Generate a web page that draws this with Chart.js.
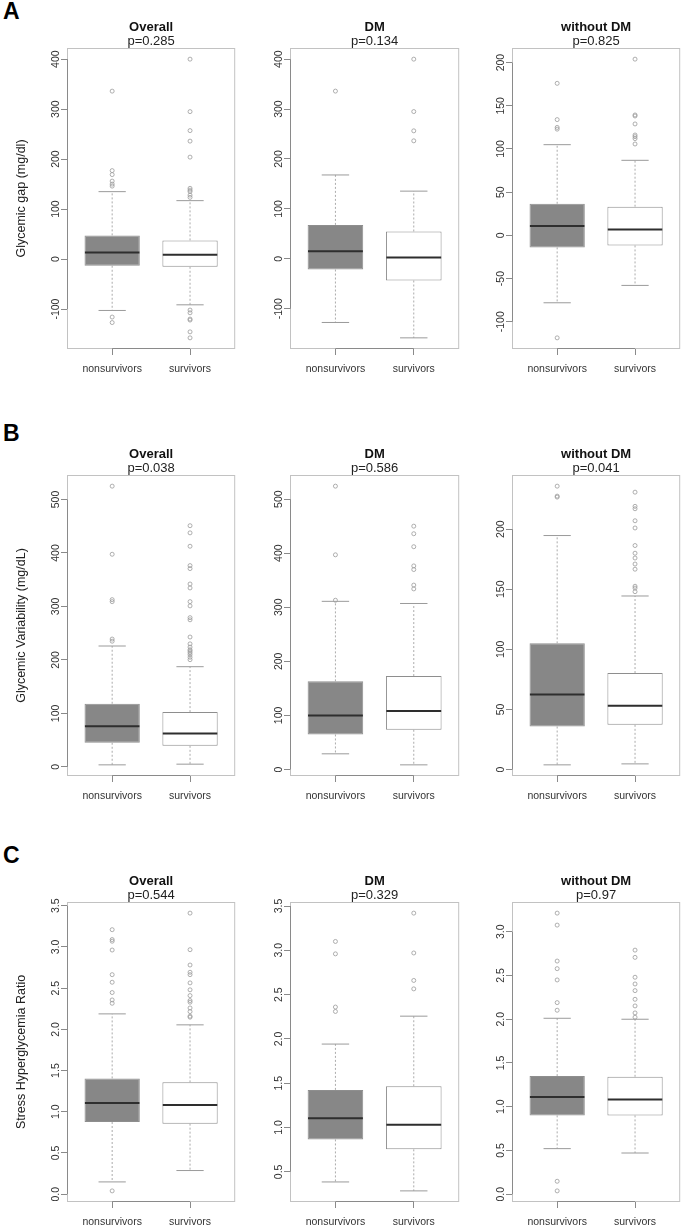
<!DOCTYPE html>
<html>
<head>
<meta charset="utf-8">
<script src="https://cdn.jsdelivr.net/npm/chart.js@4.4.1/dist/chart.umd.min.js"></script>
<style>
  html, body { margin: 0; padding: 0; background: #fff; }
  body { width: 685px; height: 1226px; position: relative; overflow: hidden; }
  .panel { position: absolute; }
  .letter { position: absolute; left: 3px; font: bold 23px/23px "Liberation Sans", Arial, sans-serif; color: #000; }
</style>
</head>
<body>
<div class="letter" style="top:0px">A</div>
<div class="letter" style="top:422px">B</div>
<div class="letter" style="top:844px">C</div>
<script>
const groups = ['nonsurvivors', 'survivors'];

// each box: [lower whisker, q1, median, q3, upper whisker]
// A - glycemic gap
const gapAllBox = [[-102.8, -13.4, 13.4, 47.4, 134.9], [-91.5, -15.4, 8.7, 37.4, 116.9]];
const gapAllOut = [[336, 177, 169, 156, 150, 146, -116, -127],
                   [400, 295, 257, 236, 204, 141.6, 138, 135, 128, 123.5, -102, -107.5, -120, -122, -145.6, -157.6]];
const gapDmBox = [[-127.5, -21.4, 15.4, 68, 168], [-158.3, -43.4, 2.7, 54.8, 135.6]];
const gapDmOut = [[336], [400, 295, 256.4, 236.4]];
const gapNoDmBox = [[-78, -13.9, 10.8, 36.6, 105], [-57.9, -11.6, 6.9, 33.2, 86.9]];
const gapNoDmOut = [[176, 134, 125, 123, -118.6], [204, 139.4, 138.2, 129, 116.2, 114.3, 112, 105.8]];
const gapTicks = [-100, 0, 100, 200, 300, 400];
const gapNoDmTicks = [-100, -50, 0, 50, 100, 150, 200];

// B - glycemic variability
const varAllBox = [[3.7, 45, 76, 118, 226], [5, 39.3, 62.4, 102.4, 187.3]];
const varAllOut = [[525, 397.6, 312.7, 309, 239, 235],
                   [451, 437.6, 412.6, 376.4, 370.8, 342, 334.6, 309, 301, 279, 275, 242.8, 230, 224, 219, 216.6, 213.5, 209.7, 205, 200.4]];
const varDmBox = [[29, 64.8, 100, 163, 311], [8.6, 73.5, 108, 172.8, 307]];
const varDmOut = [[524, 397, 313], [450, 436, 412, 376.5, 369.8, 341, 334]];
const varNoDmBox = [[3.9, 35.8, 62.5, 105, 194.7], [4.7, 37.2, 53, 80.3, 144.4]];
const varNoDmOut = [[235.8, 227.5, 226.7], [230.8, 219, 217, 207, 201, 186.4, 180, 176, 171, 166.7, 152.5, 151, 148]];
const varTicks = [0, 100, 200, 300, 400, 500];
const varNoDmTicks = [0, 50, 100, 150, 200];

// C - stress hyperglycemia ratio
const shrAllBox = [[0.149, 0.876, 1.106, 1.405, 2.188], [0.287, 0.856, 1.082, 1.357, 2.055]];
const shrAllOut = [[3.21, 3.09, 3.07, 2.963, 2.664, 2.572, 2.447, 2.357, 2.317, 0.04],
                   [3.411, 2.967, 2.781, 2.693, 2.664, 2.564, 2.48, 2.41, 2.35, 2.33, 2.26, 2.216, 2.16, 2.148]];
const shrDmBox = [[0.386, 0.866, 1.106, 1.425, 1.942], [0.285, 0.754, 1.031, 1.466, 2.257]];
const shrDmOut = [[3.10, 2.96, 2.36, 2.31], [3.42, 2.97, 2.66, 2.565]];
const shrNoDmBox = [[0.521, 0.901, 1.11, 1.35, 2.011], [0.471, 0.901, 1.084, 1.342, 2.0]];
const shrNoDmOut = [[3.213, 3.076, 2.665, 2.578, 2.449, 2.19, 2.103, 0.148, 0.038],
                    [2.79, 2.707, 2.48, 2.403, 2.327, 2.228, 2.152, 2.072, 2.023]];
const shrTicks = [0, 0.5, 1, 1.5, 2, 2.5, 3, 3.5];
const shrDmTicks = [0.5, 1, 1.5, 2, 2.5, 3, 3.5];
const shrNoDmTicks = [0, 0.5, 1, 1.5, 2, 2.5, 3];

const pValues = [['0.285', '0.134', '0.825'], ['0.038', '0.586', '0.041'], ['0.544', '0.329', '0.97']];
const titles = ['Overall', 'DM', 'without DM'];
const yTitles = ['Glycemic gap (mg/dl)', 'Glycemic Variability (mg/dL)', 'Stress Hyperglycemia Ratio'];

// layout of the plot regions (px)
const cols = [[67, 238], [290, 462], [512, 683]];
const rows = [[48, 349], [475, 776], [902, 1202]];
const BOX_HALF = 0.35, CAP_HALF = 0.175;
const FONT = '"Liberation Sans", Arial, sans-serif';
const TICK_LEN = 6, LABEL_OFFSET = 11;

Chart.defaults.font.family = FONT;
Chart.defaults.animation = false;

// R style frame plus axis lines from first to last tick
const frame = {
  id: 'frame',
  afterDatasetsDraw(chart) {
    const { ctx, chartArea: a, scales: { x, y } } = chart;
    ctx.save();
    ctx.lineWidth = 1;
    ctx.strokeStyle = '#c2c2c2';
    ctx.strokeRect(a.left + 0.5, a.top + 0.5, a.width - 1, a.height - 1);
    ctx.strokeStyle = '#8a8a8a';
    ctx.beginPath();
    ctx.moveTo(x.getPixelForValue(x.ticks[0].value), a.bottom - 0.5);
    ctx.lineTo(x.getPixelForValue(x.ticks[x.ticks.length - 1].value), a.bottom - 0.5);
    ctx.moveTo(a.left + 0.5, y.getPixelForValue(y.ticks[0].value));
    ctx.lineTo(a.left + 0.5, y.getPixelForValue(y.ticks[y.ticks.length - 1].value));
    ctx.stroke();
    ctx.restore();
  }
};

function segments(pairs) {
  return pairs.flatMap(p => [p[0], p[1], { x: p[1].x, y: null }]);
}

function boxplot(row, col, box, out, ticks, decimals) {
  const [l, r] = cols[col], [t, b] = rows[row];
  const axisW = col === 0 ? 67 : 45;
  const left = l - axisW, top = t - 48;
  const canvas = document.createElement('canvas');
  canvas.className = 'panel';
  canvas.width = r - left + 2;
  canvas.height = b - top + 40;
  canvas.style.left = left + 'px';
  canvas.style.top = top + 'px';
  document.body.appendChild(canvas);

  const labels = ticks.map(v => v.toFixed(decimals));
  const ctx = canvas.getContext('2d');
  ctx.font = '10.5px ' + FONT;
  const widest = Math.max(...labels.map(s => ctx.measureText(s).width));

  const all = box.flat().concat(out.flat());
  const lo = Math.min(...all), hi = Math.max(...all), pad = (hi - lo) * 0.04;
  const xs = [1, 2];

  new Chart(canvas, {
    type: 'scatter',
    data: {
      datasets: [
        {
          type: 'bar', order: 4,
          data: box.map((s, i) => ({ x: xs[i], y: [s[1], s[3]] })),
          backgroundColor: ['#878787', '#ffffff'],
          borderColor: '#8e8e8e', borderWidth: 1, borderSkipped: false,
          barPercentage: 0.71, categoryPercentage: 1
        },
        {
          type: 'line', order: 3,
          data: segments(box.flatMap((s, i) => [
            [{ x: xs[i], y: s[3] }, { x: xs[i], y: s[4] }],
            [{ x: xs[i], y: s[1] }, { x: xs[i], y: s[0] }]
          ])),
          borderColor: '#ababab', borderWidth: 1, borderDash: [2, 2], pointRadius: 0
        },
        {
          type: 'line', order: 2,
          data: segments(box.flatMap((s, i) => [
            [{ x: xs[i] - CAP_HALF, y: s[4] }, { x: xs[i] + CAP_HALF, y: s[4] }],
            [{ x: xs[i] - CAP_HALF, y: s[0] }, { x: xs[i] + CAP_HALF, y: s[0] }]
          ])),
          borderColor: '#9a9a9a', borderWidth: 1, pointRadius: 0
        },
        {
          type: 'line', order: 1,
          data: segments(box.map((s, i) => [{ x: xs[i] - BOX_HALF, y: s[2] }, { x: xs[i] + BOX_HALF, y: s[2] }])),
          borderColor: '#2e2e2e', borderWidth: 2, pointRadius: 0
        },
        {
          type: 'scatter', order: 0,
          data: out.flatMap((vals, i) => vals.map(v => ({ x: xs[i], y: v }))),
          pointStyle: 'circle', pointRadius: 2,
          pointBackgroundColor: 'rgba(0,0,0,0)', pointBorderColor: '#9a9a9a', pointBorderWidth: 0.8
        }
      ]
    },
    options: {
      responsive: false,
      events: [],
      layout: { padding: { left: 0, right: 2, top: 0, bottom: 0 } },
      plugins: {
        legend: { display: false },
        tooltip: { enabled: false },
        title: {
          display: true, text: titles[col], fullSize: false, color: '#111',
          font: { size: 13, weight: 'bold', lineHeight: 1.2 }, padding: { top: 19.4, bottom: 0 }
        },
        subtitle: {
          display: true, text: 'p=' + pValues[row][col], fullSize: false, color: '#222',
          font: { size: 13, lineHeight: 1 }, padding: 0
        }
      },
      scales: {
        x: {
          type: 'linear', min: 0.42, max: 2.58, offset: false,
          afterBuildTicks: s => { s.ticks = xs.map(v => ({ value: v })); },
          afterFit: s => { s.height = 40; },
          ticks: { autoSkip: false, color: '#333', font: { size: 10.5 }, padding: 7.7, maxRotation: 0,
                   callback: v => groups[v - 1] },
          grid: { display: true, offset: false, drawOnChartArea: false, drawTicks: true,
                  tickLength: TICK_LEN, color: '#8a8a8a' },
          border: { display: false }
        },
        y: {
          type: 'linear', min: lo - pad, max: hi + pad,
          afterBuildTicks: s => { s.ticks = ticks.map(v => ({ value: v })); },
          afterFit: s => { s.width = axisW; },
          ticks: { autoSkip: false, color: '#333', font: { size: 10.5 }, minRotation: 90, maxRotation: 90,
                   crossAlign: 'center', padding: LABEL_OFFSET - TICK_LEN - widest / 2,
                   callback: (v, i) => labels[i] },
          grid: { display: true, offset: false, drawOnChartArea: false, drawTicks: true,
                  tickLength: TICK_LEN, color: '#8a8a8a' },
          border: { display: false },
          title: { display: col === 0, text: yTitles[row], color: '#222', font: { size: 12.5 },
                   padding: { top: 14.5, bottom: 0 } }
        }
      }
    },
    plugins: [frame]
  });
}

boxplot(0, 0, gapAllBox, gapAllOut, gapTicks, 0);
boxplot(0, 1, gapDmBox, gapDmOut, gapTicks, 0);
boxplot(0, 2, gapNoDmBox, gapNoDmOut, gapNoDmTicks, 0);
boxplot(1, 0, varAllBox, varAllOut, varTicks, 0);
boxplot(1, 1, varDmBox, varDmOut, varTicks, 0);
boxplot(1, 2, varNoDmBox, varNoDmOut, varNoDmTicks, 0);
boxplot(2, 0, shrAllBox, shrAllOut, shrTicks, 1);
boxplot(2, 1, shrDmBox, shrDmOut, shrDmTicks, 1);
boxplot(2, 2, shrNoDmBox, shrNoDmOut, shrNoDmTicks, 1);
</script>
</body>
</html>
